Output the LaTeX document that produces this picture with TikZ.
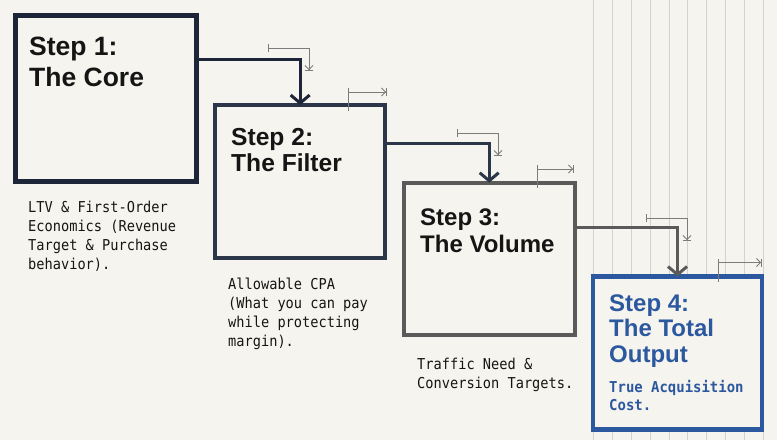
\documentclass[tikz,border=0pt]{standalone}
\usepackage{fontspec}
\setmainfont{Liberation Sans}
\newfontfamily\titlefont{Liberation Sans}
\newfontfamily\descfont[FakeStretch=0.91]{DejaVu Sans Mono}
\newfontfamily\outfont[FakeStretch=0.93]{DejaVu Sans Mono}
\usetikzlibrary{arrows.meta}
\definecolor{bg}{HTML}{F6F4EE}
\definecolor{ink}{HTML}{151515}
\definecolor{navyA}{HTML}{1D2638}
\definecolor{navyB}{HTML}{2B3649}
\definecolor{greyC}{HTML}{5A5A5A}
\definecolor{blueD}{HTML}{2C58A0}
\definecolor{notegray}{HTML}{7C7C7C}
\definecolor{gridgray}{HTML}{D2D2D0}
\begin{document}
\begin{tikzpicture}[x=1pt,y=-1pt,
  stepbox/.style={draw, fill=bg, rectangle, inner sep=0pt, outer sep=0pt},
  title/.style={anchor=base west, inner sep=0pt, align=left, text=ink},
  desc/.style={anchor=base west, inner sep=0pt, align=left, text=ink, font=\descfont\fontsize{15}{18.7}\selectfont},
  conn/.style={line width=3pt, -{Straight Barb[length=8pt,width=19pt]}},
  notebar/.style={line width=0.9pt, draw=notegray, {Bar[width=8pt]}-{Straight Barb[length=4pt,width=8pt]Bar[width=8pt]}},
  notearr/.style={line width=0.9pt, draw=notegray, -{Straight Barb[length=4pt,width=8pt]Bar[width=8pt]}},
  notetick/.style={line width=0.9pt, draw=notegray},
  gridline/.style={line width=0.8pt, draw=gridgray}]
\fill[bg] (0,0) rectangle (777,440);
\useasboundingbox (0,0) rectangle (777,440);
% vertical grid
\foreach \i in {0,...,9} {
  \coordinate (gt\i) at (593.3+18.9*\i,0);
  \coordinate (gb\i) at (593.3+18.9*\i,440);
  \draw[gridline] (gt\i) -- (gb\i);
}
% boxes
\node[stepbox, line width=5pt, draw=navyA, minimum width=181.6pt, minimum height=166.3pt] (b1) at (106,98.35) {};
\node[stepbox, line width=4pt, draw=navyB, minimum width=170.3pt, minimum height=153pt] (b2) at (300.15,181.5) {};
\node[stepbox, line width=4pt, draw=greyC, minimum width=171pt, minimum height=152.6pt] (b3) at (489.2,259) {};
\node[stepbox, line width=4.5pt, draw=blueD, minimum width=169pt, minimum height=153pt] (b4) at (677.5,353) {};
% titles (anchor = baseline of last line)
\node[title, font=\titlefont\bfseries\fontsize{26.5}{31}\selectfont] (t1) at (29,86.7) {Step 1:\\The Core};
\node[title, font=\titlefont\bfseries\fontsize{24.6}{26.2}\selectfont] (t2) at (231,171.7) {Step 2:\\The Filter};
\node[title, font=\titlefont\bfseries\fontsize{24}{27}\selectfont] (t3) at (420,252) {Step 3:\\The Volume};
\node[title, text=blueD, font=\titlefont\bfseries\fontsize{24}{25.5}\selectfont] (t4) at (609,362) {Step 4:\\The Total\\Output};
% descriptions
\node[desc] (d1) at (28,269) {LTV \& First-Order\\Economics (Revenue\\Target \& Purchase\\behavior).};
\node[desc] (d2) at (228,346) {Allowable CPA\\(What you can pay\\while protecting\\margin).};
\node[desc] (d3) at (417,388) {Traffic Need \&\\Conversion Targets.};
\node[desc, text=blueD, font=\outfont\bfseries\fontsize{15}{18}\selectfont] (d4) at (609,410) {True Acquisition\\Cost.};
% connectors
\coordinate (k1) at (0,59);
\coordinate (k2) at (0,143);
\coordinate (k3) at (0,227);
\draw[conn, draw=navyA] (b1.east |- k1) -| (b2.north);
\draw[conn, draw=navyB] (b2.east |- k2) -| (b3.north);
\draw[conn, draw=greyC] (b3.east |- k3) -| (b4.north);
% annotation arrows
\coordinate (a1s) at (268,48); \coordinate (a1e) at (309,71);
\draw[notebar] (a1s) -| (a1e);
\coordinate (a3s) at (457,133); \coordinate (a3e) at (498,156);
\draw[notebar] (a3s) -| (a3e);
\coordinate (a5s) at (646,218); \coordinate (a5e) at (687,241);
\draw[notebar] (a5s) -| (a5e);
\coordinate (a2t) at (348,88); \coordinate (a2b) at (348,111);
\coordinate (a2s) at (348,92); \coordinate (a2e) at (387,92);
\draw[notetick] (a2t) -- (a2b);
\draw[notearr] (a2s) -- (a2e);
\coordinate (a4t) at (537,165); \coordinate (a4b) at (537,188);
\coordinate (a4s) at (537,169); \coordinate (a4e) at (574,169);
\draw[notetick] (a4t) -- (a4b);
\draw[notearr] (a4s) -- (a4e);
\coordinate (a6t) at (718,259); \coordinate (a6b) at (718,282);
\coordinate (a6s) at (718,262.5); \coordinate (a6e) at (762,262.5);
\draw[notetick] (a6t) -- (a6b);
\draw[notearr] (a6s) -- (a6e);
\end{tikzpicture}
\end{document}
